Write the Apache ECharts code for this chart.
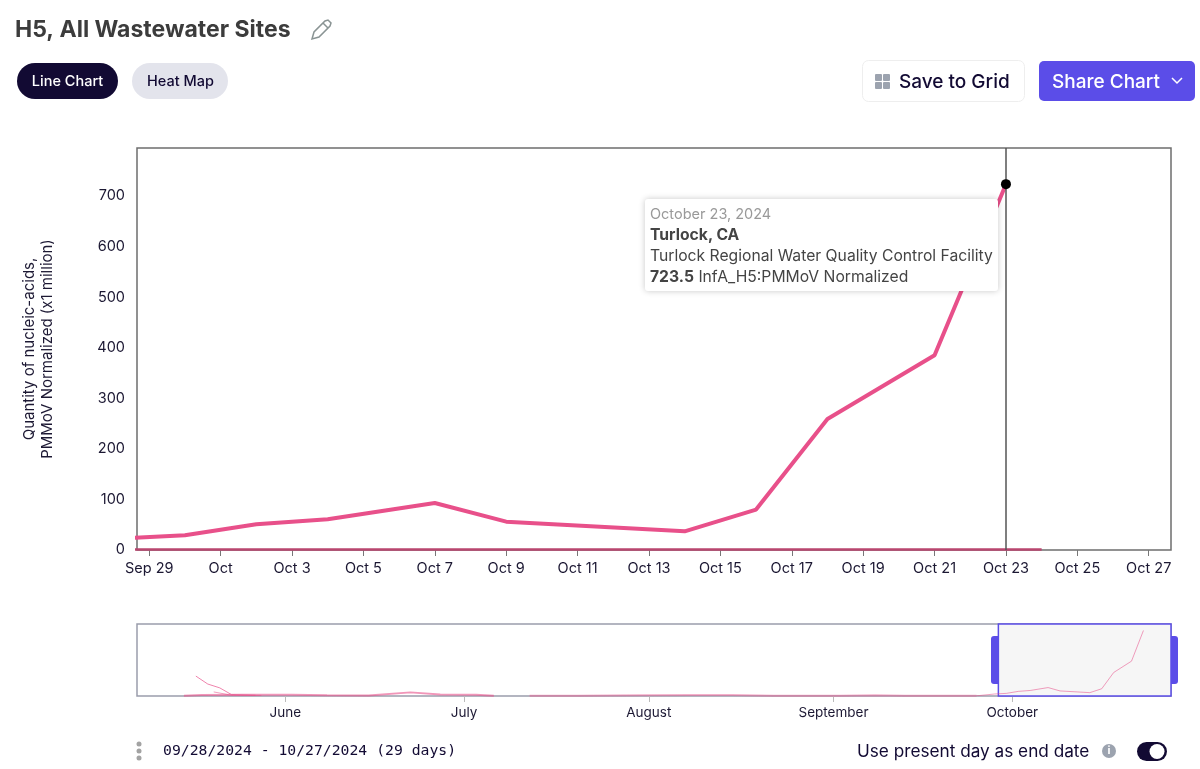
<!DOCTYPE html>
<html>
<head>
<meta charset="utf-8">
<style>html,body{margin:0;padding:0;background:#fff}#c{width:1200px;height:769px}</style>
<script src="https://cdn.jsdelivr.net/npm/echarts@6/dist/echarts.min.js"></script>
</head>
<body>
<div id="c"></div>
<script>
const FONT = 'Inter, "Noto Sans", sans-serif';
const MONO = '"DejaVu Sans Mono", monospace';

// Turlock, CA
const turlockDates = ['2024-09-25','2024-09-28','2024-09-30','2024-10-02','2024-10-04','2024-10-07','2024-10-09','2024-10-14','2024-10-16','2024-10-18','2024-10-21','2024-10-23'];
const turlockValues = [2,22,29,51,61,93,56,37,80,259,385,723.5];

// Other sites (near zero in the visible window)
const otherDates = ['2024-09-28','2024-10-05','2024-10-12','2024-10-19','2024-10-24'];
const otherValues = [1,1,1,1,1];

// Overview-only traces
const earlyADates = ['2024-05-17','2024-05-19','2024-05-21','2024-05-23','2024-05-27'];
const earlyAValues = [220,132,90,15,8];
const earlyBDates = ['2024-05-20','2024-05-23','2024-05-28'];
const earlyBValues = [45,8,6];
const lowADates = ['2024-05-15','2024-05-18','2024-05-25','2024-06-02','2024-06-08','2024-06-15','2024-06-22','2024-06-27','2024-07-03','2024-07-06'];
const lowAValues = [2,12,14,15,7,6,40,16,14,2];
const lowBDates = ['2024-07-12','2024-07-20','2024-07-30','2024-08-08','2024-08-15','2024-08-22','2024-09-02','2024-09-08','2024-09-13','2024-09-25'];
const lowBValues = [4,3,8,10,10,4,2,9,2,3];

// Axis labels
const tickDates = ['2024-09-29','2024-10-01','2024-10-03','2024-10-05','2024-10-07','2024-10-09','2024-10-11','2024-10-13','2024-10-15','2024-10-17','2024-10-19','2024-10-21','2024-10-23','2024-10-25','2024-10-27'];
const tickLabels = ['Sep 29','Oct','Oct 3','Oct 5','Oct 7','Oct 9','Oct 11','Oct 13','Oct 15','Oct 17','Oct 19','Oct 21','Oct 23','Oct 25','Oct 27'];
const monthDates = ['2024-06-01','2024-07-01','2024-08-01','2024-09-01','2024-10-01'];
const monthLabels = ['June','July','August','September','October'];

// Selected window
const windowStart = '2024-09-28T15:47:00Z';
const windowEnd = '2024-10-27T14:58:00Z';
const overviewStart = '2024-05-07T03:00:00Z';
const yMax = 795;
const PINK = '#e8508a';

const ts = s => Date.parse(s);
const pairs = (d, v) => d.map((x, i) => [ts(x), v[i]]);
const tickMap = Object.fromEntries(tickDates.map((d, i) => [ts(d), tickLabels[i]]));
const monthMap = Object.fromEntries(monthDates.map((d, i) => [ts(d), monthLabels[i]]));
const peakIndex = turlockValues.length - 1;
const peak = [ts(turlockDates[peakIndex]), turlockValues[peakIndex]];

const chart = echarts.init(document.getElementById('c'));
const miniLine = (name, d, v, w, op) => ({
  name, type: 'line', xAxisIndex: 1, yAxisIndex: 1, data: pairs(d, v), showSymbol: false, silent: true,
  lineStyle: { color: PINK, width: w, opacity: op }, tooltip: { show: false }
});

chart.setOption({
  animation: false,
  textStyle: { fontFamily: FONT },
  tooltip: {
    trigger: 'item', triggerOn: 'none', alwaysShowContent: true, transitionDuration: 0,
    position: [645, 199], padding: [4, 5, 4, 5], backgroundColor: '#fff', borderWidth: 0,
    extraCssText: 'box-shadow:0 0 6px rgba(0,0,0,.22);border-radius:3px;width:343px;box-sizing:content-box;',
    formatter: () => '<div style="font:15.7px/21px ' + FONT.replace(/"/g, "'") + ';color:#444;white-space:nowrap;">' +
      '<div style="color:#999;font-size:14.5px">October 23, 2024</div>' +
      '<div style="font-weight:700">Turlock, CA</div>' +
      '<div>Turlock Regional Water Quality Control Facility</div>' +
      '<div><b>' + peak[1].toFixed(1) + '</b> InfA_H5:PMMoV Normalized</div></div>'
  },
  grid: [
    { left: 137, right: 29, top: 148, height: 402, show: true, borderColor: '#6e6e6e', borderWidth: 1.5, backgroundColor: 'transparent' },
    { left: 137, right: 29, top: 624, height: 72, show: true, borderColor: '#9a9dac', borderWidth: 1.5, backgroundColor: 'transparent' }
  ],
  xAxis: [
    { type: 'value', gridIndex: 0, min: ts(windowStart), max: ts(windowEnd),
      axisLine: { show: false }, splitLine: { show: false },
      axisTick: { show: true, length: 6, customValues: tickDates.map(ts), lineStyle: { color: '#777', width: 1 } },
      axisLabel: { customValues: tickDates.map(ts), formatter: v => tickMap[v] || '', color: '#1c1833', fontSize: 14.5, fontFamily: FONT, margin: 11, hideOverlap: false }
    },
    { type: 'value', gridIndex: 1, min: ts(overviewStart), max: ts(windowEnd),
      axisLine: { show: false }, splitLine: { show: false },
      axisTick: { show: true, length: 6, customValues: monthDates.map(ts), lineStyle: { color: '#bbb', width: 1 } },
      axisLabel: { customValues: monthDates.map(ts), formatter: v => monthMap[v] || '', color: '#1c1833', fontSize: 13.5, fontFamily: FONT, margin: 10, hideOverlap: false }
    }
  ],
  yAxis: [
    { type: 'value', gridIndex: 0, min: 0, max: yMax, interval: 100,
      name: 'Quantity of nucleic-acids,\nPMMoV Normalized (x1 million)', nameLocation: 'middle', nameGap: 81, nameRotate: 90,
      nameTextStyle: { color: '#1c1833', fontSize: 15, lineHeight: 18, fontFamily: FONT },
      axisLine: { show: false }, axisTick: { show: false }, splitLine: { show: false },
      axisLabel: { color: '#1c1833', fontSize: 14.5, fontFamily: FONT, margin: 12, showMaxLabel: false, padding: [2, 0, 0, 0] }
    },
    { type: 'value', gridIndex: 1, min: 0, max: yMax, show: false, splitLine: { show: false } }
  ],
  series: [
    { name: 'Other sites', type: 'line', xAxisIndex: 0, yAxisIndex: 0, data: pairs(otherDates, otherValues), showSymbol: false, silent: true,
      lineStyle: { color: '#b9466f', width: 2.5 }, tooltip: { show: false } },
    { name: 'Turlock, CA', type: 'line', xAxisIndex: 0, yAxisIndex: 0, data: pairs(turlockDates, turlockValues), showSymbol: false,
      lineStyle: { color: PINK, width: 4 }, z: 3, tooltip: { show: false } },
    { name: 'Selected point', type: 'scatter', xAxisIndex: 0, yAxisIndex: 0, data: [peak], symbolSize: 10, clip: false, z: 6,
      itemStyle: { color: '#000', opacity: 1 },
      markLine: { silent: true, symbol: 'none', z: 4, label: { show: false }, data: [{ xAxis: peak[0] }], lineStyle: { color: '#555', width: 1.5, type: 'solid' } } },
    Object.assign(miniLine('Overview Turlock', turlockDates, turlockValues, 1, 0.55), {
      markArea: { silent: true, data: [[{ xAxis: ts(windowStart) }, { xAxis: ts(windowEnd) }]],
        itemStyle: { color: '#f6f6f6', borderColor: '#5b4de8', borderWidth: 1.5 } }
    }),
    miniLine('Early A', earlyADates, earlyAValues, 1, 0.7),
    miniLine('Early B', earlyBDates, earlyBValues, 1, 0.55),
    miniLine('Low A', lowADates, lowAValues, 2, 0.6),
    miniLine('Low B', lowBDates, lowBValues, 2, 0.45)
  ],
  graphic: [
    { type: 'text', x: 15, y: 30, style: { text: 'H5, All Wastewater Sites', font: '700 23px ' + FONT, fill: '#3c3c3c', verticalAlign: 'middle' } },
    { type: 'polygon', shape: { points: [[312, 39], [314, 32], [325, 21], [328, 20], [331, 23], [330, 26], [319, 37]] }, style: { fill: 'none', stroke: '#8a9494', lineWidth: 1.5 } },
    { type: 'line', shape: { x1: 323, y1: 23, x2: 328, y2: 28 }, style: { stroke: '#8a9494', lineWidth: 1.5 } },

    { type: 'rect', shape: { x: 17, y: 63, width: 101, height: 36, r: 18 }, style: { fill: '#120a33' } },
    { type: 'text', x: 67.5, y: 81.5, style: { text: 'Line Chart', font: '500 14.5px ' + FONT, fill: '#fff', align: 'center', verticalAlign: 'middle' } },
    { type: 'rect', shape: { x: 132, y: 63, width: 96, height: 36, r: 18 }, style: { fill: '#e3e4ec' } },
    { type: 'text', x: 180.5, y: 81.5, style: { text: 'Heat Map', font: '500 14.5px ' + FONT, fill: '#120a33', align: 'center', verticalAlign: 'middle' } },

    { type: 'rect', shape: { x: 862.5, y: 60.5, width: 162, height: 41, r: 6 }, style: { fill: '#fff', stroke: '#eeeeee', lineWidth: 1 } },
    { type: 'rect', shape: { x: 875, y: 74, width: 7, height: 7, r: 1 }, style: { fill: '#9ca3af' } },
    { type: 'rect', shape: { x: 883, y: 74, width: 7, height: 7, r: 1 }, style: { fill: '#9ca3af' } },
    { type: 'rect', shape: { x: 875, y: 82, width: 7, height: 7, r: 1 }, style: { fill: '#9ca3af' } },
    { type: 'rect', shape: { x: 883, y: 82, width: 7, height: 7, r: 1 }, style: { fill: '#9ca3af' } },
    { type: 'text', x: 899, y: 82, style: { text: 'Save to Grid', font: '500 19px ' + FONT, fill: '#120a33', verticalAlign: 'middle' } },
    { type: 'rect', shape: { x: 1039, y: 61, width: 156, height: 40, r: 5 }, style: { fill: '#5b4de8' } },
    { type: 'text', x: 1052, y: 82, style: { text: 'Share Chart', font: '500 19px ' + FONT, fill: '#fff', verticalAlign: 'middle' } },
    { type: 'polyline', shape: { points: [[1172, 78], [1177, 83], [1182, 78]] }, style: { fill: 'none', stroke: '#fff', lineWidth: 1.5 } },

    { type: 'rect', shape: { x: 991, y: 636, width: 7, height: 48, r: [3, 0, 0, 3] }, style: { fill: '#5b4de8' }, z: 10 },
    { type: 'rect', shape: { x: 1171, y: 636, width: 7, height: 48, r: [0, 3, 3, 0] }, style: { fill: '#5b4de8' }, z: 10 },

    { type: 'circle', shape: { cx: 139, cy: 744, r: 2.5 }, style: { fill: '#a3a3a3' } },
    { type: 'circle', shape: { cx: 139, cy: 751, r: 2.5 }, style: { fill: '#a3a3a3' } },
    { type: 'circle', shape: { cx: 139, cy: 758, r: 2.5 }, style: { fill: '#a3a3a3' } },
    { type: 'text', x: 163, y: 751, style: { text: '09/28/2024 - 10/27/2024 (29 days)', font: '14.75px ' + MONO, fill: '#120a33', verticalAlign: 'middle' } },

    { type: 'text', x: 857, y: 752, style: { text: 'Use present day as end date', font: '400 17.2px ' + FONT, fill: '#120a33', verticalAlign: 'middle' } },
    { type: 'circle', shape: { cx: 1109, cy: 751, r: 7 }, style: { fill: '#9ca3af' } },
    { type: 'text', x: 1109, y: 751, style: { text: 'i', font: '700 11px ' + FONT, fill: '#fff', align: 'center', verticalAlign: 'middle' } },
    { type: 'rect', shape: { x: 1137, y: 742, width: 30, height: 19, r: 9.5 }, style: { fill: '#120a33' } },
    { type: 'circle', shape: { cx: 1157, cy: 751.5, r: 7.5 }, style: { fill: '#fff' } }
  ]
});
chart.dispatchAction({ type: 'showTip', seriesIndex: 2, dataIndex: 0 });
</script>
</body>
</html>
